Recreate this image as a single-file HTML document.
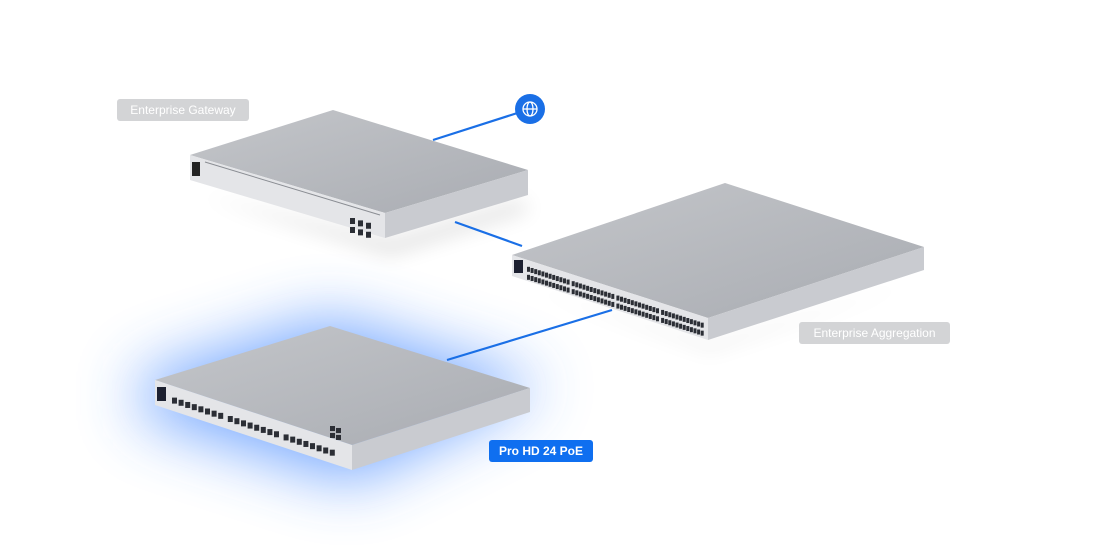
<!DOCTYPE html>
<html><head><meta charset="utf-8"><style>
html,body{margin:0;padding:0;background:#fff;width:1116px;height:549px;overflow:hidden}
.lbl{position:absolute;font-family:"Liberation Sans",sans-serif;font-size:12px;color:#fff;border-radius:3px;height:22px;line-height:22px;text-align:center}
</style></head><body>
<svg width="1116" height="549" style="position:absolute;left:0;top:0">
<defs>
<filter id="blur" x="-50%" y="-50%" width="200%" height="200%"><feGaussianBlur stdDeviation="32"/></filter>
<filter id="sh" x="-50%" y="-50%" width="200%" height="200%"><feGaussianBlur stdDeviation="10"/></filter>
<linearGradient id="top" x1="0" y1="0" x2="1" y2="1"><stop offset="0" stop-color="#c4c6ca"/><stop offset="1" stop-color="#a9acb2"/></linearGradient>
</defs>
<polygon points="140,378 330,318 545,386 352,482 140,414" fill="#3f85ff" opacity="0.72" filter="url(#blur)"/>
<polygon points="200,195 390,255 530,210 520,200 390,240" fill="#000" opacity="0.12" filter="url(#sh)"/>
<polygon points="520,285 710,350 925,280 710,345" fill="#000" opacity="0.12" filter="url(#sh)"/>
<g stroke="#1a6fe6" stroke-width="2.2">
<line x1="530" y1="109" x2="433" y2="140"/>
<line x1="455" y1="222" x2="522" y2="246"/>
<line x1="612" y1="310" x2="447" y2="360"/>
</g>
<circle cx="530" cy="109" r="15" fill="#1a6fe6"/>
<g fill="none" stroke="#fff" stroke-width="1.3"><circle cx="530" cy="109" r="7"/><ellipse cx="530" cy="109" rx="3" ry="7"/><line x1="523" y1="109" x2="537" y2="109"/></g>

<polygon points="190,155 333,110 528,170 385,213" fill="url(#top)"/>
<polygon points="190,155 385,213 385,238 190,180" fill="#e4e5e8"/>
<polygon points="385,213 528,170 528,195 385,238" fill="#c9cbd0"/>
<line x1="205" y1="162" x2="380" y2="215" stroke="#8a8d93" stroke-width="1"/>
<rect x="192" y="162" width="8" height="14" fill="#222"/>
<g id="gwports"></g>

<polygon points="512,255 725,183 924,247 708,318" fill="url(#top)"/>
<polygon points="512,255 708,318 708,340 512,276" fill="#e4e5e8"/>
<polygon points="708,318 924,247 924,270 708,340" fill="#c9cbd0"/>
<rect x="514" y="260" width="9" height="13" fill="#1c2030"/>
<g id="agports"></g>

<polygon points="155,380 330,326 530,388 352,445" fill="url(#top)"/>
<polygon points="155,380 352,445 352,470 155,405" fill="#e4e5e8"/>
<polygon points="352,445 530,388 530,412 352,470" fill="#c9cbd0"/>
<rect x="157" y="387" width="9" height="14" fill="#1c2030"/>
<g id="phports"></g>
</svg>
<div class="lbl" style="left:117px;top:99px;width:132px;background:#d3d4d6">Enterprise Gateway</div>
<div class="lbl" style="left:799px;top:322px;width:151px;background:#d3d4d6">Enterprise Aggregation</div>
<div class="lbl" style="left:489px;top:440px;width:104px;background:#0f6ff0;font-weight:bold">Pro HD 24 PoE</div>
<script>
var NS="http://www.w3.org/2000/svg";
function r(g,x,y,w,h,c){var e=document.createElementNS(NS,"rect");e.setAttribute("x",x);e.setAttribute("y",y);e.setAttribute("width",w);e.setAttribute("height",h);e.setAttribute("fill",c);g.appendChild(e);}
var g=document.getElementById("phports");var s=65/197;
for(var i=0;i<24;i++){var x=172+i*6.6+Math.floor(i/8)*3;r(g,x,392+(x-155)*s,5,6,"#2b2e35");}
for(var j=0;j<2;j++)for(var k=0;k<2;k++){var x=330+j*6;r(g,x,440+(x-330)*s-14+k*7,5,5,"#2b2e35");}
g=document.getElementById("agports");s=63/196;
for(var row=0;row<2;row++)for(var i=0;i<48;i++){var x=527+i*3.6+Math.floor(i/12)*1.5;r(g,x,262+row*8+(x-512)*s,3,5,"#2b2e35");}
g=document.getElementById("gwports");s=58/195;
for(var j=0;j<3;j++)for(var k=0;k<2;k++){var x=350+j*8;r(g,x,218+k*9+(x-350)*s,5,6,"#2b2e35");}
</script>
</body></html>
